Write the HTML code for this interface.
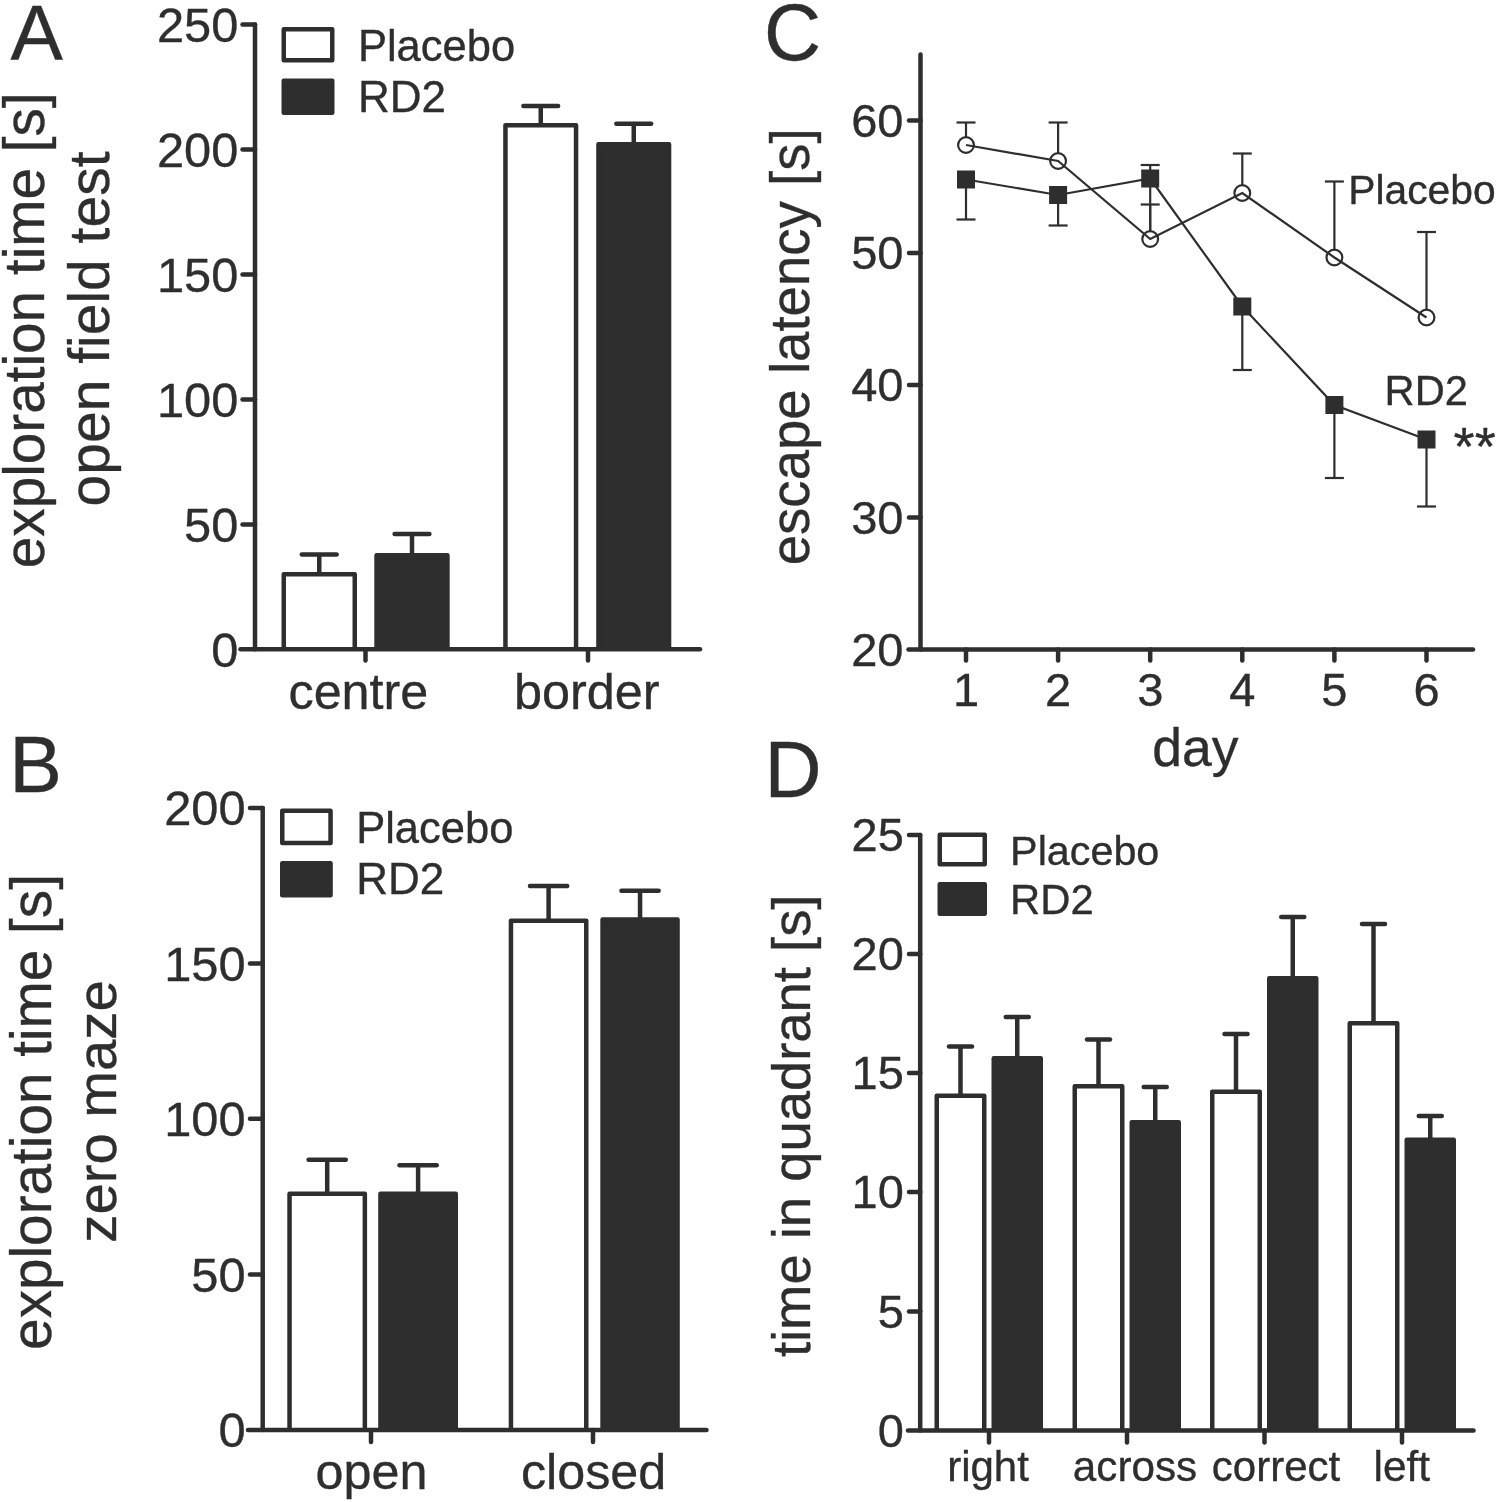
<!DOCTYPE html>
<html><head><meta charset="utf-8"><title>Figure</title>
<style>html,body{margin:0;padding:0;background:#fff}svg{display:block}text{font-family:"Liberation Sans",sans-serif;fill:#2e2e2e;stroke:#2e2e2e;stroke-width:0.35px}</style>
</head><body>
<svg width="1500" height="1502" viewBox="0 0 1500 1502">
<rect width="1500" height="1502" fill="#fff"/>
<text x="10.4" y="59.5" font-size="78.5" text-anchor="start">A</text>
<line x1="319.25" y1="554.4" x2="319.25" y2="574" stroke="#2e2e2e" stroke-width="4.5" stroke-linecap="butt"/>
<line x1="301.85" y1="554.4" x2="336.65" y2="554.4" stroke="#2e2e2e" stroke-width="4.5" stroke-linecap="round"/>
<path d="M283.75 649.2V574.25H354.75V649.2" fill="#fff" stroke="#2e2e2e" stroke-width="4.5" stroke-linejoin="round" stroke-linecap="butt"/>
<line x1="412.0" y1="534.1" x2="412.0" y2="555" stroke="#2e2e2e" stroke-width="4.5" stroke-linecap="butt"/>
<line x1="394.6" y1="534.1" x2="429.4" y2="534.1" stroke="#2e2e2e" stroke-width="4.5" stroke-linecap="round"/>
<path d="M376.55 649.2V555.25H447.45V649.2" fill="#2e2e2e" stroke="#2e2e2e" stroke-width="4.5" stroke-linejoin="round" stroke-linecap="butt"/>
<line x1="540.75" y1="106.1" x2="540.75" y2="125.1" stroke="#2e2e2e" stroke-width="4.5" stroke-linecap="butt"/>
<line x1="523.35" y1="106.1" x2="558.15" y2="106.1" stroke="#2e2e2e" stroke-width="4.5" stroke-linecap="round"/>
<path d="M505.45 649.2V125.35H576.05V649.2" fill="#fff" stroke="#2e2e2e" stroke-width="4.5" stroke-linejoin="round" stroke-linecap="butt"/>
<line x1="633.75" y1="123.7" x2="633.75" y2="143.9" stroke="#2e2e2e" stroke-width="4.5" stroke-linecap="butt"/>
<line x1="616.35" y1="123.7" x2="651.15" y2="123.7" stroke="#2e2e2e" stroke-width="4.5" stroke-linecap="round"/>
<path d="M598.45 649.2V144.15H669.05V649.2" fill="#2e2e2e" stroke="#2e2e2e" stroke-width="4.5" stroke-linejoin="round" stroke-linecap="butt"/>
<line x1="255" y1="24.5" x2="255" y2="649.2" stroke="#2e2e2e" stroke-width="4.5" stroke-linecap="round"/>
<line x1="240.5" y1="649.2" x2="700" y2="649.2" stroke="#2e2e2e" stroke-width="4.5" stroke-linecap="round"/>
<line x1="242.5" y1="24.5" x2="255" y2="24.5" stroke="#2e2e2e" stroke-width="4.5" stroke-linecap="round"/>
<text x="238.3" y="41.7" font-size="48.8" text-anchor="end">250</text>
<line x1="242.5" y1="149.5" x2="255" y2="149.5" stroke="#2e2e2e" stroke-width="4.5" stroke-linecap="round"/>
<text x="238.3" y="166.7" font-size="48.8" text-anchor="end">200</text>
<line x1="242.5" y1="274.5" x2="255" y2="274.5" stroke="#2e2e2e" stroke-width="4.5" stroke-linecap="round"/>
<text x="238.3" y="291.7" font-size="48.8" text-anchor="end">150</text>
<line x1="242.5" y1="399.5" x2="255" y2="399.5" stroke="#2e2e2e" stroke-width="4.5" stroke-linecap="round"/>
<text x="238.3" y="416.7" font-size="48.8" text-anchor="end">100</text>
<line x1="242.5" y1="524.5" x2="255" y2="524.5" stroke="#2e2e2e" stroke-width="4.5" stroke-linecap="round"/>
<text x="238.3" y="541.7" font-size="48.8" text-anchor="end">50</text>
<text x="238.3" y="666.7" font-size="48.8" text-anchor="end">0</text>
<line x1="365.5" y1="649.2" x2="365.5" y2="660.5" stroke="#2e2e2e" stroke-width="4.5" stroke-linecap="round"/>
<line x1="588" y1="649.2" x2="588" y2="660.5" stroke="#2e2e2e" stroke-width="4.5" stroke-linecap="round"/>
<text x="358.4" y="708.6" font-size="50.3" text-anchor="middle">centre</text>
<text x="586.8" y="708.6" font-size="50.4" text-anchor="middle">border</text>
<rect x="283.75" y="29.25" width="48.5" height="31.0" fill="#fff" stroke="#2e2e2e" stroke-width="4.5" stroke-linejoin="round"/>
<rect x="283.75" y="80.85" width="48.5" height="31.900000000000006" fill="#2e2e2e" stroke="#2e2e2e" stroke-width="4.5" stroke-linejoin="round"/>
<text x="357.9" y="60.5" font-size="43.5" text-anchor="start">Placebo</text>
<text x="357.9" y="112.3" font-size="44.02" text-anchor="start">RD2</text>
<text x="44.2" y="330.3" font-size="56.7" text-anchor="middle" transform="rotate(-90 44.2 330.3)">exploration time [s]</text>
<text x="109.2" y="329" font-size="57" text-anchor="middle" transform="rotate(-90 109.2 329)">open field test</text>
<text x="9.3" y="792" font-size="79" text-anchor="start">B</text>
<line x1="327.20000000000005" y1="1159.8" x2="327.20000000000005" y2="1193.6" stroke="#2e2e2e" stroke-width="4.5" stroke-linecap="butt"/>
<line x1="308.6" y1="1159.8" x2="345.80000000000007" y2="1159.8" stroke="#2e2e2e" stroke-width="4.5" stroke-linecap="round"/>
<path d="M289.55 1430V1193.85H364.85V1430" fill="#fff" stroke="#2e2e2e" stroke-width="4.5" stroke-linejoin="round" stroke-linecap="butt"/>
<line x1="418.1" y1="1165.2" x2="418.1" y2="1193.6" stroke="#2e2e2e" stroke-width="4.5" stroke-linecap="butt"/>
<line x1="399.5" y1="1165.2" x2="436.70000000000005" y2="1165.2" stroke="#2e2e2e" stroke-width="4.5" stroke-linecap="round"/>
<path d="M380.45 1430V1193.85H455.75V1430" fill="#2e2e2e" stroke="#2e2e2e" stroke-width="4.5" stroke-linejoin="round" stroke-linecap="butt"/>
<line x1="548.6" y1="886.1" x2="548.6" y2="920.4" stroke="#2e2e2e" stroke-width="4.5" stroke-linecap="butt"/>
<line x1="530.0" y1="886.1" x2="567.2" y2="886.1" stroke="#2e2e2e" stroke-width="4.5" stroke-linecap="round"/>
<path d="M510.95 1430V920.65H586.25V1430" fill="#fff" stroke="#2e2e2e" stroke-width="4.5" stroke-linejoin="round" stroke-linecap="butt"/>
<line x1="640.05" y1="890.8" x2="640.05" y2="919.2" stroke="#2e2e2e" stroke-width="4.5" stroke-linecap="butt"/>
<line x1="621.4499999999999" y1="890.8" x2="658.65" y2="890.8" stroke="#2e2e2e" stroke-width="4.5" stroke-linecap="round"/>
<path d="M602.55 1430V919.45H677.55V1430" fill="#2e2e2e" stroke="#2e2e2e" stroke-width="4.5" stroke-linejoin="round" stroke-linecap="butt"/>
<line x1="262.7" y1="808" x2="262.7" y2="1430" stroke="#2e2e2e" stroke-width="4.5" stroke-linecap="round"/>
<line x1="248" y1="1430" x2="706.5" y2="1430" stroke="#2e2e2e" stroke-width="4.5" stroke-linecap="round"/>
<line x1="250" y1="808" x2="262.7" y2="808" stroke="#2e2e2e" stroke-width="4.5" stroke-linecap="round"/>
<text x="245.6" y="825.2" font-size="48.8" text-anchor="end">200</text>
<line x1="250" y1="963.5" x2="262.7" y2="963.5" stroke="#2e2e2e" stroke-width="4.5" stroke-linecap="round"/>
<text x="245.6" y="980.7" font-size="48.8" text-anchor="end">150</text>
<line x1="250" y1="1118.7" x2="262.7" y2="1118.7" stroke="#2e2e2e" stroke-width="4.5" stroke-linecap="round"/>
<text x="245.6" y="1135.9" font-size="48.8" text-anchor="end">100</text>
<line x1="250" y1="1274.5" x2="262.7" y2="1274.5" stroke="#2e2e2e" stroke-width="4.5" stroke-linecap="round"/>
<text x="245.6" y="1291.7" font-size="48.8" text-anchor="end">50</text>
<text x="245.6" y="1447.2" font-size="48.8" text-anchor="end">0</text>
<line x1="371" y1="1430" x2="371" y2="1442" stroke="#2e2e2e" stroke-width="4.5" stroke-linecap="round"/>
<line x1="593" y1="1430" x2="593" y2="1442" stroke="#2e2e2e" stroke-width="4.5" stroke-linecap="round"/>
<text x="371.5" y="1489" font-size="50.3" text-anchor="middle">open</text>
<text x="593.6" y="1489" font-size="50.3" text-anchor="middle">closed</text>
<rect x="282.25" y="810.85" width="48.30000000000001" height="32.10000000000002" fill="#fff" stroke="#2e2e2e" stroke-width="4.5" stroke-linejoin="round"/>
<rect x="282.25" y="863.25" width="48.30000000000001" height="32.10000000000002" fill="#2e2e2e" stroke="#2e2e2e" stroke-width="4.5" stroke-linejoin="round"/>
<text x="356.2" y="842.8" font-size="43.5" text-anchor="start">Placebo</text>
<text x="356.2" y="894.3" font-size="44.02" text-anchor="start">RD2</text>
<text x="50.5" y="1112" font-size="56.7" text-anchor="middle" transform="rotate(-90 50.5 1112)">exploration time [s]</text>
<text x="115.8" y="1111.5" font-size="56.2" text-anchor="middle" transform="rotate(-90 115.8 1111.5)">zero maze</text>
<text x="764" y="60" font-size="79" text-anchor="start">C</text>
<line x1="920.5" y1="54.5" x2="920.5" y2="649.5" stroke="#2e2e2e" stroke-width="4.5" stroke-linecap="round"/>
<line x1="908.5" y1="649.5" x2="1473" y2="649.5" stroke="#2e2e2e" stroke-width="4.5" stroke-linecap="round"/>
<line x1="909" y1="120.5" x2="920.5" y2="120.5" stroke="#2e2e2e" stroke-width="4.5" stroke-linecap="round"/>
<text x="903.5" y="136.7" font-size="47" text-anchor="end">60</text>
<line x1="909" y1="253" x2="920.5" y2="253" stroke="#2e2e2e" stroke-width="4.5" stroke-linecap="round"/>
<text x="903.5" y="269.2" font-size="47" text-anchor="end">50</text>
<line x1="909" y1="385" x2="920.5" y2="385" stroke="#2e2e2e" stroke-width="4.5" stroke-linecap="round"/>
<text x="903.5" y="401.2" font-size="47" text-anchor="end">40</text>
<line x1="909" y1="517.5" x2="920.5" y2="517.5" stroke="#2e2e2e" stroke-width="4.5" stroke-linecap="round"/>
<text x="903.5" y="533.7" font-size="47" text-anchor="end">30</text>
<text x="903.5" y="665.7" font-size="47" text-anchor="end">20</text>
<line x1="966.0" y1="649.5" x2="966.0" y2="660.5" stroke="#2e2e2e" stroke-width="4.5" stroke-linecap="round"/>
<text x="966.0" y="705.5" font-size="47" text-anchor="middle">1</text>
<line x1="1058.1" y1="649.5" x2="1058.1" y2="660.5" stroke="#2e2e2e" stroke-width="4.5" stroke-linecap="round"/>
<text x="1058.1" y="705.5" font-size="47" text-anchor="middle">2</text>
<line x1="1150.2" y1="649.5" x2="1150.2" y2="660.5" stroke="#2e2e2e" stroke-width="4.5" stroke-linecap="round"/>
<text x="1150.2" y="705.5" font-size="47" text-anchor="middle">3</text>
<line x1="1242.3" y1="649.5" x2="1242.3" y2="660.5" stroke="#2e2e2e" stroke-width="4.5" stroke-linecap="round"/>
<text x="1242.3" y="705.5" font-size="47" text-anchor="middle">4</text>
<line x1="1334.4" y1="649.5" x2="1334.4" y2="660.5" stroke="#2e2e2e" stroke-width="4.5" stroke-linecap="round"/>
<text x="1334.4" y="705.5" font-size="47" text-anchor="middle">5</text>
<line x1="1426.5" y1="649.5" x2="1426.5" y2="660.5" stroke="#2e2e2e" stroke-width="4.5" stroke-linecap="round"/>
<text x="1426.5" y="705.5" font-size="47" text-anchor="middle">6</text>
<text x="1195.3" y="765.6" font-size="53.5" text-anchor="middle">day</text>
<text x="808.6" y="346.8" font-size="54.6" text-anchor="middle" transform="rotate(-90 808.6 346.8)">escape latency [s]</text>
<line x1="966.0" y1="145" x2="966.0" y2="122.5" stroke="#2e2e2e" stroke-width="2.2" stroke-linecap="butt"/>
<line x1="956.5" y1="122.5" x2="975.5" y2="122.5" stroke="#2e2e2e" stroke-width="2.2" stroke-linecap="butt"/>
<line x1="1058.1" y1="161" x2="1058.1" y2="122.5" stroke="#2e2e2e" stroke-width="2.2" stroke-linecap="butt"/>
<line x1="1048.6" y1="122.5" x2="1067.6" y2="122.5" stroke="#2e2e2e" stroke-width="2.2" stroke-linecap="butt"/>
<line x1="1150.2" y1="239" x2="1150.2" y2="204.5" stroke="#2e2e2e" stroke-width="2.2" stroke-linecap="butt"/>
<line x1="1140.7" y1="204.5" x2="1159.7" y2="204.5" stroke="#2e2e2e" stroke-width="2.2" stroke-linecap="butt"/>
<line x1="1242.3" y1="193" x2="1242.3" y2="153.5" stroke="#2e2e2e" stroke-width="2.2" stroke-linecap="butt"/>
<line x1="1232.8" y1="153.5" x2="1251.8" y2="153.5" stroke="#2e2e2e" stroke-width="2.2" stroke-linecap="butt"/>
<line x1="1334.4" y1="257.5" x2="1334.4" y2="181.5" stroke="#2e2e2e" stroke-width="2.2" stroke-linecap="butt"/>
<line x1="1324.9" y1="181.5" x2="1343.9" y2="181.5" stroke="#2e2e2e" stroke-width="2.2" stroke-linecap="butt"/>
<line x1="1426.5" y1="317.5" x2="1426.5" y2="232" stroke="#2e2e2e" stroke-width="2.2" stroke-linecap="butt"/>
<line x1="1417.0" y1="232" x2="1436.0" y2="232" stroke="#2e2e2e" stroke-width="2.2" stroke-linecap="butt"/>
<line x1="966.0" y1="179.5" x2="966.0" y2="219.5" stroke="#2e2e2e" stroke-width="2.2" stroke-linecap="butt"/>
<line x1="956.5" y1="219.5" x2="975.5" y2="219.5" stroke="#2e2e2e" stroke-width="2.2" stroke-linecap="butt"/>
<line x1="1058.1" y1="195" x2="1058.1" y2="225.5" stroke="#2e2e2e" stroke-width="2.2" stroke-linecap="butt"/>
<line x1="1048.6" y1="225.5" x2="1067.6" y2="225.5" stroke="#2e2e2e" stroke-width="2.2" stroke-linecap="butt"/>
<line x1="1150.2" y1="178.5" x2="1150.2" y2="165" stroke="#2e2e2e" stroke-width="2.2" stroke-linecap="butt"/>
<line x1="1140.7" y1="165" x2="1159.7" y2="165" stroke="#2e2e2e" stroke-width="2.2" stroke-linecap="butt"/>
<line x1="1242.3" y1="306.5" x2="1242.3" y2="370" stroke="#2e2e2e" stroke-width="2.2" stroke-linecap="butt"/>
<line x1="1232.8" y1="370" x2="1251.8" y2="370" stroke="#2e2e2e" stroke-width="2.2" stroke-linecap="butt"/>
<line x1="1334.4" y1="405" x2="1334.4" y2="478" stroke="#2e2e2e" stroke-width="2.2" stroke-linecap="butt"/>
<line x1="1324.9" y1="478" x2="1343.9" y2="478" stroke="#2e2e2e" stroke-width="2.2" stroke-linecap="butt"/>
<line x1="1426.5" y1="439.5" x2="1426.5" y2="506.5" stroke="#2e2e2e" stroke-width="2.2" stroke-linecap="butt"/>
<line x1="1417.0" y1="506.5" x2="1436.0" y2="506.5" stroke="#2e2e2e" stroke-width="2.2" stroke-linecap="butt"/>
<line x1="1150.2" y1="178.5" x2="1150.2" y2="239" stroke="#2e2e2e" stroke-width="2.2" stroke-linecap="butt"/>
<circle cx="966.0" cy="145" r="7.9" fill="#fff" stroke="#2e2e2e" stroke-width="2.2"/>
<circle cx="1058.1" cy="161" r="7.9" fill="#fff" stroke="#2e2e2e" stroke-width="2.2"/>
<circle cx="1150.2" cy="239" r="7.9" fill="#fff" stroke="#2e2e2e" stroke-width="2.2"/>
<circle cx="1242.3" cy="193" r="7.9" fill="#fff" stroke="#2e2e2e" stroke-width="2.2"/>
<circle cx="1334.4" cy="257.5" r="7.9" fill="#fff" stroke="#2e2e2e" stroke-width="2.2"/>
<circle cx="1426.5" cy="317.5" r="7.9" fill="#fff" stroke="#2e2e2e" stroke-width="2.2"/>
<polyline points="966.0,145 1058.1,161 1150.2,239 1242.3,193 1334.4,257.5 1426.5,317.5" fill="none" stroke="#2e2e2e" stroke-width="2.2"/>
<polyline points="966.0,179.5 1058.1,195 1150.2,178.5 1242.3,306.5 1334.4,405 1426.5,439.5" fill="none" stroke="#2e2e2e" stroke-width="2.2"/>
<rect x="957.0" y="170.5" width="18" height="18" fill="#2e2e2e"/>
<rect x="1049.1" y="186" width="18" height="18" fill="#2e2e2e"/>
<rect x="1141.2" y="169.5" width="18" height="18" fill="#2e2e2e"/>
<rect x="1233.3" y="297.5" width="18" height="18" fill="#2e2e2e"/>
<rect x="1325.4" y="396" width="18" height="18" fill="#2e2e2e"/>
<rect x="1417.5" y="430.5" width="18" height="18" fill="#2e2e2e"/>
<text x="1348.2" y="204" font-size="40.8" text-anchor="start">Placebo</text>
<text x="1384.6" y="404.5" font-size="41.6" text-anchor="start">RD2</text>
<text x="1453.6" y="465" font-size="54.2" text-anchor="start">**</text>
<text x="764.6" y="797" font-size="79" text-anchor="start">D</text>
<line x1="960.5" y1="1046.5" x2="960.5" y2="1095.6" stroke="#2e2e2e" stroke-width="4.5" stroke-linecap="butt"/>
<line x1="949.0" y1="1046.5" x2="972.0" y2="1046.5" stroke="#2e2e2e" stroke-width="4.5" stroke-linecap="round"/>
<path d="M936.75 1430.5V1095.85H984.25V1430.5" fill="#fff" stroke="#2e2e2e" stroke-width="4.5" stroke-linejoin="round" stroke-linecap="butt"/>
<line x1="1017.25" y1="1017" x2="1017.25" y2="1058" stroke="#2e2e2e" stroke-width="4.5" stroke-linecap="butt"/>
<line x1="1005.75" y1="1017" x2="1028.75" y2="1017" stroke="#2e2e2e" stroke-width="4.5" stroke-linecap="round"/>
<path d="M993.75 1430.5V1058.25H1040.75V1430.5" fill="#2e2e2e" stroke="#2e2e2e" stroke-width="4.5" stroke-linejoin="round" stroke-linecap="butt"/>
<line x1="1098.5" y1="1039.5" x2="1098.5" y2="1086" stroke="#2e2e2e" stroke-width="4.5" stroke-linecap="butt"/>
<line x1="1087.0" y1="1039.5" x2="1110.0" y2="1039.5" stroke="#2e2e2e" stroke-width="4.5" stroke-linecap="round"/>
<path d="M1074.75 1430.5V1086.25H1122.25V1430.5" fill="#fff" stroke="#2e2e2e" stroke-width="4.5" stroke-linejoin="round" stroke-linecap="butt"/>
<line x1="1155.25" y1="1087" x2="1155.25" y2="1122" stroke="#2e2e2e" stroke-width="4.5" stroke-linecap="butt"/>
<line x1="1143.75" y1="1087" x2="1166.75" y2="1087" stroke="#2e2e2e" stroke-width="4.5" stroke-linecap="round"/>
<path d="M1131.75 1430.5V1122.25H1178.75V1430.5" fill="#2e2e2e" stroke="#2e2e2e" stroke-width="4.5" stroke-linejoin="round" stroke-linecap="butt"/>
<line x1="1236.0" y1="1034" x2="1236.0" y2="1091.6" stroke="#2e2e2e" stroke-width="4.5" stroke-linecap="butt"/>
<line x1="1224.5" y1="1034" x2="1247.5" y2="1034" stroke="#2e2e2e" stroke-width="4.5" stroke-linecap="round"/>
<path d="M1212.25 1430.5V1091.85H1259.75V1430.5" fill="#fff" stroke="#2e2e2e" stroke-width="4.5" stroke-linejoin="round" stroke-linecap="butt"/>
<line x1="1292.75" y1="917" x2="1292.75" y2="978" stroke="#2e2e2e" stroke-width="4.5" stroke-linecap="butt"/>
<line x1="1281.25" y1="917" x2="1304.25" y2="917" stroke="#2e2e2e" stroke-width="4.5" stroke-linecap="round"/>
<path d="M1269.25 1430.5V978.25H1316.25V1430.5" fill="#2e2e2e" stroke="#2e2e2e" stroke-width="4.5" stroke-linejoin="round" stroke-linecap="butt"/>
<line x1="1373.5" y1="924" x2="1373.5" y2="1023" stroke="#2e2e2e" stroke-width="4.5" stroke-linecap="butt"/>
<line x1="1362.0" y1="924" x2="1385.0" y2="924" stroke="#2e2e2e" stroke-width="4.5" stroke-linecap="round"/>
<path d="M1349.75 1430.5V1023.25H1397.25V1430.5" fill="#fff" stroke="#2e2e2e" stroke-width="4.5" stroke-linejoin="round" stroke-linecap="butt"/>
<line x1="1430.25" y1="1116" x2="1430.25" y2="1139.5" stroke="#2e2e2e" stroke-width="4.5" stroke-linecap="butt"/>
<line x1="1418.75" y1="1116" x2="1441.75" y2="1116" stroke="#2e2e2e" stroke-width="4.5" stroke-linecap="round"/>
<path d="M1406.75 1430.5V1139.75H1453.75V1430.5" fill="#2e2e2e" stroke="#2e2e2e" stroke-width="4.5" stroke-linejoin="round" stroke-linecap="butt"/>
<line x1="920.2" y1="835" x2="920.2" y2="1430.5" stroke="#2e2e2e" stroke-width="4.5" stroke-linecap="round"/>
<line x1="908" y1="1430.5" x2="1473.5" y2="1430.5" stroke="#2e2e2e" stroke-width="4.5" stroke-linecap="round"/>
<line x1="909" y1="835" x2="920.2" y2="835" stroke="#2e2e2e" stroke-width="4.5" stroke-linecap="round"/>
<text x="903.8" y="851.2" font-size="47" text-anchor="end">25</text>
<line x1="909" y1="954" x2="920.2" y2="954" stroke="#2e2e2e" stroke-width="4.5" stroke-linecap="round"/>
<text x="903.8" y="970.2" font-size="47" text-anchor="end">20</text>
<line x1="909" y1="1073" x2="920.2" y2="1073" stroke="#2e2e2e" stroke-width="4.5" stroke-linecap="round"/>
<text x="903.8" y="1089.2" font-size="47" text-anchor="end">15</text>
<line x1="909" y1="1192" x2="920.2" y2="1192" stroke="#2e2e2e" stroke-width="4.5" stroke-linecap="round"/>
<text x="903.8" y="1208.2" font-size="47" text-anchor="end">10</text>
<line x1="909" y1="1311.5" x2="920.2" y2="1311.5" stroke="#2e2e2e" stroke-width="4.5" stroke-linecap="round"/>
<text x="903.8" y="1327.7" font-size="47" text-anchor="end">5</text>
<text x="903.8" y="1446.7" font-size="47" text-anchor="end">0</text>
<line x1="989" y1="1430.5" x2="989" y2="1442.5" stroke="#2e2e2e" stroke-width="4.5" stroke-linecap="round"/>
<line x1="1127" y1="1430.5" x2="1127" y2="1442.5" stroke="#2e2e2e" stroke-width="4.5" stroke-linecap="round"/>
<line x1="1264.5" y1="1430.5" x2="1264.5" y2="1442.5" stroke="#2e2e2e" stroke-width="4.5" stroke-linecap="round"/>
<line x1="1402" y1="1430.5" x2="1402" y2="1442.5" stroke="#2e2e2e" stroke-width="4.5" stroke-linecap="round"/>
<text x="988" y="1481" font-size="42" text-anchor="middle">right</text>
<text x="1135" y="1481" font-size="42.2" text-anchor="middle">across</text>
<text x="1276" y="1481" font-size="42" text-anchor="middle">correct</text>
<text x="1401.8" y="1481" font-size="42.4" text-anchor="middle">left</text>
<rect x="939.75" y="834.75" width="45.0" height="29.5" fill="#fff" stroke="#2e2e2e" stroke-width="4.5" stroke-linejoin="round"/>
<rect x="939.75" y="884.25" width="45.0" height="29.5" fill="#2e2e2e" stroke="#2e2e2e" stroke-width="4.5" stroke-linejoin="round"/>
<text x="1010.1" y="864.5" font-size="41.3" text-anchor="start">Placebo</text>
<text x="1010.1" y="914" font-size="41.8" text-anchor="start">RD2</text>
<text x="810.3" y="1125.8" font-size="54.4" text-anchor="middle" transform="rotate(-90 810.3 1125.8)">time in quadrant [s]</text>
</svg>
</body></html>
